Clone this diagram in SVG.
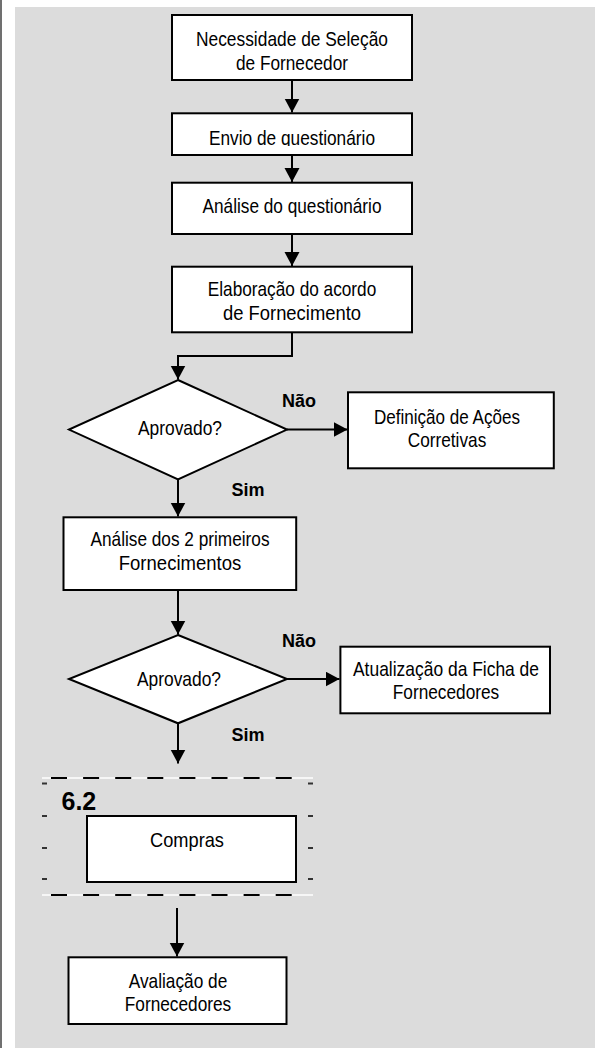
<svg xmlns="http://www.w3.org/2000/svg" width="603" height="1048" viewBox="0 0 603 1048">
<style>
.box{fill:#fff;stroke:#000;stroke-width:2}
.t{font-family:"Liberation Sans Narrow","Liberation Sans",Arial,sans-serif;font-size:21px;text-anchor:middle;fill:#000}
.b{font-family:"Liberation Sans",Arial,sans-serif;font-weight:bold;font-size:18px;text-anchor:middle;fill:#000}
.c{fill:none;stroke:#000;stroke-width:2}
.tick{fill:#333}
</style>
<defs>
<marker id="ah" markerUnits="userSpaceOnUse" markerWidth="15" markerHeight="16" refX="14" refY="7.5" orient="auto">
<path d="M0,0 L14,7.5 L0,15 z" fill="#000"/>
</marker>
<clipPath id="clip2"><rect x="172" y="113" width="240" height="33"/></clipPath>
</defs>
<rect x="0" y="0" width="603" height="1048" fill="#fff"/>
<rect x="15" y="7" width="580" height="1041" fill="#dcdcdc"/>
<rect x="0" y="0" width="2" height="1048" fill="#707070"/>

<g id="connectors">
<line class="c" x1="292" y1="80" x2="292" y2="112.5" marker-end="url(#ah)"/>
<line class="c" x1="292" y1="155" x2="292" y2="182" marker-end="url(#ah)"/>
<line class="c" x1="292" y1="234" x2="292" y2="266" marker-end="url(#ah)"/>
<path class="c" d="M292,332 V356 H178 V379.5" marker-end="url(#ah)"/>
<line class="c" x1="287" y1="429.6" x2="347.5" y2="429.6" marker-end="url(#ah)"/>
<line class="c" x1="178" y1="479.3" x2="178" y2="516.5" marker-end="url(#ah)"/>
<line class="c" x1="178" y1="590" x2="178" y2="634.5" marker-end="url(#ah)"/>
<line class="c" x1="287" y1="679" x2="339.5" y2="679" marker-end="url(#ah)"/>
<line class="c" x1="178" y1="723.3" x2="178" y2="763.5" marker-end="url(#ah)"/>
<line class="c" x1="177" y1="908" x2="177" y2="956.5" marker-end="url(#ah)"/>
</g>

<g id="n1">
<rect class="box" x="172" y="15" width="240" height="65"/>
<text class="t" x="292" y="46" textLength="192" lengthAdjust="spacingAndGlyphs">Necessidade de Seleção</text>
<text class="t" x="292" y="70" textLength="112" lengthAdjust="spacingAndGlyphs">de Fornecedor</text>
</g>
<g id="n2">
<rect class="box" x="172" y="113.3" width="240" height="41.7"/>
<text class="t" x="292" y="144.5" clip-path="url(#clip2)" textLength="166" lengthAdjust="spacingAndGlyphs">Envio de questionário</text>
</g>
<g id="n3">
<rect class="box" x="172" y="182.7" width="240" height="51.3"/>
<text class="t" x="292" y="213" textLength="179" lengthAdjust="spacingAndGlyphs">Análise do questionário</text>
</g>
<g id="n4">
<rect class="box" x="172" y="266.7" width="240" height="65.6"/>
<text class="t" x="292" y="296" textLength="168.5" lengthAdjust="spacingAndGlyphs">Elaboração do acordo</text>
<text class="t" x="292" y="320" textLength="138" lengthAdjust="spacingAndGlyphs">de Fornecimento</text>
</g>
<g id="d1">
<polygon class="box" points="178,380 287,429.6 178,479.3 69,429.6"/>
<text class="t" x="180" y="435" textLength="84" lengthAdjust="spacingAndGlyphs">Aprovado?</text>
</g>
<g id="n5">
<rect class="box" x="348" y="392.3" width="205.8" height="76"/>
<text class="t" x="447" y="424" textLength="146" lengthAdjust="spacingAndGlyphs">Definição de Ações</text>
<text class="t" x="447" y="447" textLength="78.5" lengthAdjust="spacingAndGlyphs">Corretivas</text>
</g>
<g id="l1">
<text class="b" x="299" y="407">Não</text>
<text class="b" x="248" y="496">Sim</text>
</g>
<g id="n6">
<rect class="box" x="63.5" y="517.3" width="232.7" height="72.7"/>
<text class="t" x="180" y="546" textLength="179" lengthAdjust="spacingAndGlyphs">Análise dos 2 primeiros</text>
<text class="t" x="180" y="570" textLength="122.5" lengthAdjust="spacingAndGlyphs">Fornecimentos</text>
</g>
<g id="d2">
<polygon class="box" points="178,635 287,679 178,723.3 69,679"/>
<text class="t" x="179" y="686" textLength="84" lengthAdjust="spacingAndGlyphs">Aprovado?</text>
</g>
<g id="n7">
<rect class="box" x="340.4" y="646.7" width="209.6" height="66.6"/>
<text class="t" x="446" y="676" textLength="186" lengthAdjust="spacingAndGlyphs">Atualização da Ficha de</text>
<text class="t" x="446" y="699" textLength="106.5" lengthAdjust="spacingAndGlyphs">Fornecedores</text>
</g>
<g id="l2">
<text class="b" x="299" y="647">Não</text>
<text class="b" x="248" y="741">Sim</text>
</g>
<g id="g62">
<line x1="42" y1="778" x2="313" y2="778" stroke="#fff" stroke-width="1.5"/>
<line x1="51" y1="778" x2="292" y2="778" stroke="#000" stroke-width="2" stroke-dasharray="16 16.1"/>
<line x1="42" y1="895" x2="313" y2="895" stroke="#fff" stroke-width="1.5"/>
<line x1="51" y1="895" x2="292" y2="895" stroke="#000" stroke-width="2" stroke-dasharray="16 16.1"/>
<rect class="tick" x="42" y="782.5" width="5" height="2"/>
<rect class="tick" x="42" y="815" width="5" height="2"/>
<rect class="tick" x="42" y="847" width="5" height="2"/>
<rect class="tick" x="42" y="878" width="5" height="2"/>
<rect class="tick" x="308" y="782.5" width="5" height="2"/>
<rect class="tick" x="308" y="815" width="5" height="2"/>
<rect class="tick" x="308" y="847" width="5" height="2"/>
<rect class="tick" x="308" y="878" width="5" height="2"/>
<text x="61.5" y="810" font-family="Liberation Sans, Arial, sans-serif" font-weight="bold" font-size="25">6.2</text>
</g>
<g id="n8">
<rect class="box" x="87" y="816" width="209" height="66"/>
<text class="t" x="187" y="847" textLength="74" lengthAdjust="spacingAndGlyphs">Compras</text>
</g>
<g id="n9">
<rect class="box" x="68.5" y="957.3" width="218" height="66.7"/>
<text class="t" x="178" y="988" textLength="98.6" lengthAdjust="spacingAndGlyphs">Avaliação de</text>
<text class="t" x="178" y="1011" textLength="106.5" lengthAdjust="spacingAndGlyphs">Fornecedores</text>
</g>
</svg>
